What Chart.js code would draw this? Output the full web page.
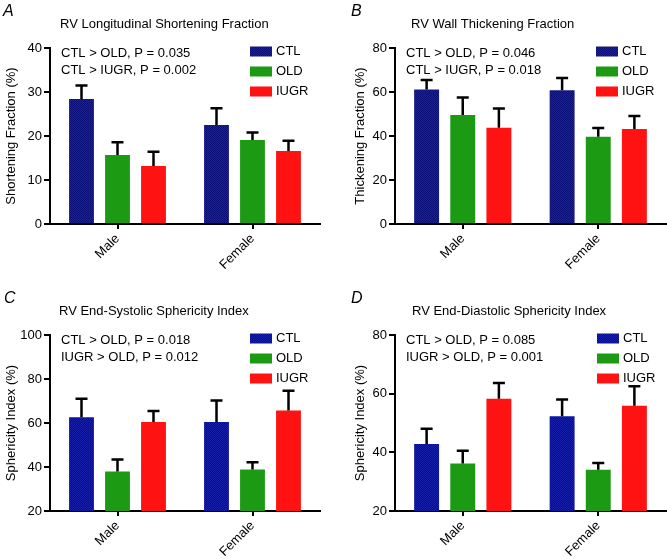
<!DOCTYPE html>
<html>
<head>
<meta charset="utf-8">
<script src="https://cdn.jsdelivr.net/npm/chart.js@4"></script>
<style>
  html, body { margin: 0; padding: 0; background: #fff; overflow: hidden; }
  body { width: 667px; height: 559px; position: relative; }
  canvas { position: absolute; }
</style>
</head>
<body>
<canvas id="chartA" width="334" height="272" style="left:0;top:0"></canvas>
<canvas id="chartB" width="333" height="272" style="left:334px;top:0"></canvas>
<canvas id="chartC" width="334" height="272" style="left:0;top:287px"></canvas>
<canvas id="chartD" width="333" height="272" style="left:334px;top:287px"></canvas>
<script>
const sexes = ['Male', 'Female'];
const groups = ['CTL', 'OLD', 'IUGR'];

// A: longitudinal shortening fraction (%)
const shortCTL = [28.4, 22.5];
const shortOLD = [15.7, 19.1];
const shortIUGR = [13.2, 16.6];
const shortCTLerr = [3.1, 3.8];
const shortOLDerr = [2.9, 1.7];
const shortIUGRerr = [3.2, 2.3];

// B: wall thickening fraction (%)
const thickCTL = [61.1, 60.8];
const thickOLD = [49.5, 39.7];
const thickIUGR = [43.8, 43.2];
const thickCTLerr = [4.4, 5.6];
const thickOLDerr = [8.0, 3.9];
const thickIUGRerr = [8.7, 5.9];

// C: end-systolic sphericity index (%)
const esCTL = [62.6, 60.5];
const esOLD = [38.0, 38.9];
const esIUGR = [60.4, 65.7];
const esCTLerr = [8.4, 9.7];
const esOLDerr = [5.4, 3.3];
const esIUGRerr = [5.0, 9.0];

// D: end-diastolic sphericity index (%)
const edCTL = [42.8, 52.3];
const edOLD = [36.2, 34.1];
const edIUGR = [58.3, 55.9];
const edCTLerr = [5.2, 5.7];
const edOLDerr = [4.3, 2.3];
const edIUGRerr = [5.3, 6.6];

const font = 'Liberation Sans, Arial, Helvetica, sans-serif';

// checkered navy fill for the CTL bars
const pc = document.createElement('canvas');
pc.width = 2; pc.height = 2;
const pctx = pc.getContext('2d');
pctx.fillStyle = '#1820a8';
pctx.fillRect(0, 0, 2, 2);
pctx.fillStyle = '#0a0e78';
pctx.fillRect(0, 0, 1, 1);
pctx.fillRect(1, 1, 1, 1);
const ctlFill = pctx.createPattern(pc, 'repeat');
const colors = [ctlFill, '#1c9a14', '#ff1212'];

// error bars (mean + SEM, upper side only)
const errorBars = {
  id: 'errorBars',
  afterDatasetsDraw(chart) {
    const ctx = chart.ctx;
    const y = chart.scales.y;
    ctx.save();
    ctx.strokeStyle = '#000';
    ctx.lineWidth = 2.5;
    chart.data.datasets.forEach((ds, i) => {
      chart.getDatasetMeta(i).data.forEach((bar, j) => {
        const top = y.getPixelForValue(ds.data[j] + ds.err[j]);
        ctx.beginPath();
        ctx.moveTo(bar.x, bar.y);
        ctx.lineTo(bar.x, top);
        ctx.moveTo(bar.x - 6, top);
        ctx.lineTo(bar.x + 6, top);
        ctx.stroke();
      });
    });
    ctx.restore();
  }
};

// panel letter, title, p-value notes and legend
const panelText = {
  id: 'panelText',
  afterDraw(chart, args, opts) {
    const ctx = chart.ctx;
    const area = chart.chartArea;
    ctx.save();
    ctx.fillStyle = '#000';
    ctx.textBaseline = 'middle';
    ctx.font = 'italic 16px ' + font;
    ctx.fillText(opts.letter, opts.letterX, 12);
    ctx.font = '13px ' + font;
    ctx.fillText(opts.title, opts.titleX, 24);
    ctx.fillText(opts.notes[0], area.left + 11, area.top + 5.5);
    ctx.fillText(opts.notes[1], area.left + 11, area.top + 22.5);
    chart.data.datasets.forEach((ds, i) => {
      const cy = area.top + 3.5 + i * 20;
      ctx.fillStyle = ds.backgroundColor;
      ctx.fillRect(opts.legendX, cy - 5, 22, 10);
      ctx.fillStyle = '#000';
      ctx.fillText(ds.label, opts.legendX + 26, cy);
    });
    ctx.restore();
  }
};

function makeChart(id, series, errs, yTitle, yMin, yMax, step, text, padLeft, padRight, yWidth) {
  return new Chart(document.getElementById(id), {
    type: 'bar',
    data: {
      labels: sexes,
      datasets: groups.map((g, i) => ({
        label: g,
        data: series[i],
        err: errs[i],
        backgroundColor: colors[i],
        borderWidth: 0,
        categoryPercentage: 0.8,
        barPercentage: 0.69
      }))
    },
    options: {
      responsive: false,
      animation: false,
      events: [],
      layout: { padding: { top: 48, left: padLeft, right: padRight, bottom: 0 } },
      plugins: {
        legend: { display: false },
        tooltip: { enabled: false },
        panelText: text
      },
      scales: {
        x: {
          z: 1,
          offset: true,
          border: { color: '#000', width: 2 },
          grid: { display: true, offset: false, drawOnChartArea: false, tickLength: 5, color: '#000', lineWidth: 2 },
          ticks: { color: '#000', font: { family: font, size: 13 }, minRotation: 45, maxRotation: 45, padding: 2 },
          afterFit(scale) { scale.height = 48; }
        },
        y: {
          z: 1,
          min: yMin,
          max: yMax,
          border: { color: '#000', width: 2 },
          grid: { display: true, drawOnChartArea: false, tickLength: 6, color: '#000', lineWidth: 2 },
          ticks: { stepSize: step, color: '#000', font: { family: font, size: 13 }, padding: 2 },
          title: { display: true, text: yTitle, color: '#000', font: { family: font, size: 13 }, padding: { top: 4, bottom: 0 } },
          afterFit(scale) { scale.width = yWidth; }
        }
      }
    },
    plugins: [errorBars, panelText]
  });
}

makeChart('chartA', [shortCTL, shortOLD, shortIUGR], [shortCTLerr, shortOLDerr, shortIUGRerr],
  'Shortening Fraction (%)', 0, 40, 10,
  { letter: 'A', letterX: 3, title: 'RV Longitudinal Shortening Fraction', titleX: 60,
    notes: ['CTL > OLD, P = 0.035', 'CTL > IUGR, P = 0.002'], legendX: 250 },
  0, 14, 50);

makeChart('chartB', [thickCTL, thickOLD, thickIUGR], [thickCTLerr, thickOLDerr, thickIUGRerr],
  'Thickening Fraction (%)', 0, 80, 20,
  { letter: 'B', letterX: 17, title: 'RV Wall Thickening Fraction', titleX: 77,
    notes: ['CTL > OLD, P = 0.046', 'CTL > IUGR, P = 0.018'], legendX: 262 },
  15, 1, 46);

makeChart('chartC', [esCTL, esOLD, esIUGR], [esCTLerr, esOLDerr, esIUGRerr],
  'Sphericity Index (%)', 20, 100, 20,
  { letter: 'C', letterX: 4, title: 'RV End-Systolic Sphericity Index', titleX: 59,
    notes: ['CTL > OLD, P = 0.018', 'IUGR > OLD, P = 0.012'], legendX: 250 },
  0, 14, 50);

makeChart('chartD', [edCTL, edOLD, edIUGR], [edCTLerr, edOLDerr, edIUGRerr],
  'Sphericity Index (%)', 20, 80, 20,
  { letter: 'D', letterX: 17, title: 'RV End-Diastolic Sphericity Index', titleX: 78,
    notes: ['CTL > OLD, P = 0.085', 'IUGR > OLD, P = 0.001'], legendX: 263 },
  15, 1, 46);
</script>
</body>
</html>
